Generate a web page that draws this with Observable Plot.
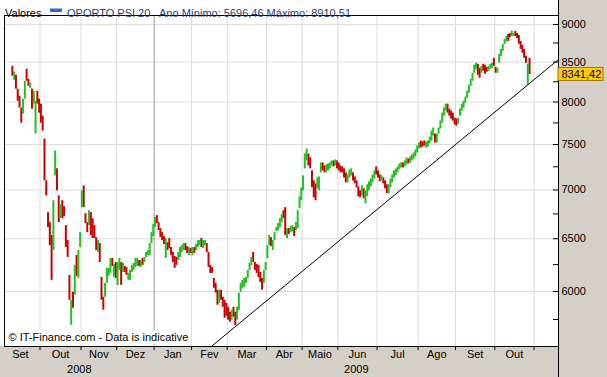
<!DOCTYPE html>
<html><head><meta charset="utf-8">
<script src="https://cdn.jsdelivr.net/npm/d3@7"></script>
<script src="https://cdn.jsdelivr.net/npm/@observablehq/plot@0.6"></script>
<style>
body{margin:0;background:#fff;}
#chart svg{display:block;}
</style></head><body><div id="chart"></div>
<script>
// ---- labels / ticks ----
const monthLabels = ["Set","Out","Nov","Dez","Jan","Fev","Mar","Abr","Maio","Jun","Jul","Ago","Set","Out"];
const tradingDays = [22,23,20,21,21,20,22,20,20,22,23,21,22,22]; // Sep 2008 .. Oct 2009
const yearLabels = ["2008","2009"];
const yTicks = [6000,6500,7000,7500,8000,8500,9000];
const yMinorTicks = [5750,6250,6750,7250,7750,8250,8750];
const seriesName = "OPORTO PSI 20";
const yearMin = 5696.46, yearMax = 8910.51, lastValue = 8341.42;
const xDomain = [2.09, 312.74];   // visible span, in trading days since 1 Sep 2008
const yDomain = [5519, 9123];
// support line (through the March 2009 low)
const trendPos = [118.7, 312.74];
const trendVal = [5527, 8534];

// ---- daily [open, close] ----
const sep08 = [[8446,8319],[8269,8370],[8332,8157],[8157,8010],[8071,7926],[7926,7748],[7854,8034],[8034,8256],[8408,8256],[8281,8194],[8169,8231],[8157,7914],[7974,8132],[7620,8010],[8132,7974],[8034,7866]];
const oct08 = [[7974,7748],[7830,7655],[7563,7097],[7097,6938],[6763,6611],[6661,6433],[6531,6102],[6385,6886],[7151,7427],[7228,6991],[6938,6661],[6701,6844],[6886,6701],[6824,6722],[6631,6414],[6482,6318],[6148,5920],[5700,5920],[5993,5849],[5966,6242],[6337,6139],[6120,6385],[6414,6561]];
const nov08 = [[6814,6991],[7044,6814],[6752,6651],[6661,6561],[6631,6783],[6763,6531],[6701,6502],[6631,6502],[6511,6385],[6366,6482],[6453,6270],[6129,5920],[5948,5831],[5948,6074],[6074,6214],[6139,6214],[6167,6308],[6308,6233],[6129,6251],[6270,6120]];
const dec08 = [[6056,6270],[6195,6308],[6270,6056],[6176,6261],[6233,6176],[6223,6148],[6102,6167],[6102,6195],[6176,6242],[6195,6261],[6223,6308],[6233,6308],[6289,6233],[6223,6289],[6308,6242],[6270,6318],[6318,6366],[6337,6385],[6337,6453],[6453,6561],[6521,6641]];
const jan09 = [[6611,6712],[6732,6651],[6661,6581],[6601,6511],[6561,6482],[6521,6443],[6308,6502],[6462,6385],[6502,6404],[6414,6337],[6366,6270],[6327,6214],[6318,6242],[6289,6366],[6318,6414],[6366,6433],[6385,6453],[6453,6385],[6423,6356],[6337,6414],[6404,6356]];
const feb09 = [[6337,6414],[6414,6356],[6385,6443],[6414,6482],[6433,6482],[6502,6414],[6404,6482],[6433,6482],[6453,6366],[6366,6223],[6242,6167],[6223,6167],[6120,6029],[6074,5984],[6011,5876],[5893,6011],[6011,5920],[5948,5858],[5920,5761],[5893,5778]];
const mar09 = [[5858,5744],[5813,5727],[5744,5831],[5858,5770],[5813,5696.46],[5744,5858],[5831,5984],[5993,6074],[6029,6102],[6038,6120],[6074,6129],[6120,6195],[6195,6261],[6242,6318],[6366,6270],[6270,6195],[6251,6167],[6242,6129],[6176,6083],[6120,6011],[6074,6195],[6195,6270]];
const apr09 = [[6308,6433],[6433,6531],[6511,6423],[6385,6482],[6482,6561],[6571,6611],[6581,6651],[6611,6701],[6661,6742],[6783,6701],[6814,6531],[6502,6601],[6601,6541],[6561,6621],[6571,6631],[6611,6521],[6581,6661],[6601,6783],[6803,6928],[6886,7023]];
const may09 = [[6991,7151],[7228,7393],[7315,7449],[7393,7260],[7349,7228],[7206,7023],[7097,6917],[7065,6886],[7012,7129],[6991,7140],[7184,7293],[7293,7206],[7260,7184],[7184,7271],[7206,7282],[7228,7293],[7260,7315],[7315,7249],[7260,7326],[7315,7228]];
const jun09 = [[7293,7206],[7260,7184],[7249,7184],[7228,7129],[7184,7076],[7076,7162],[7129,7217],[7151,7228],[7184,7097],[7140,7065],[7097,7023],[7033,6928],[6991,6917],[6938,7044],[7012,6907],[6855,6991],[6928,7055],[6991,7087],[7033,7119],[7076,7162],[7119,7206],[7249,7162]];
const jul09 = [[7206,7129],[7162,7087],[7097,7151],[7129,7065],[7097,7012],[7055,6959],[6959,7055],[7023,7119],[7076,7162],[7129,7206],[7151,7228],[7184,7249],[7217,7282],[7238,7293],[7293,7238],[7249,7315],[7271,7349],[7337,7282],[7293,7360],[7315,7382],[7337,7404],[7360,7438],[7404,7483]];
const aug09 = [[7449,7517],[7540,7460],[7529,7472],[7540,7483],[7460,7529],[7472,7540],[7506,7586],[7540,7655],[7597,7690],[7620,7517],[7517,7620],[7620,7690],[7678,7772],[7748,7866],[7830,7926],[7890,7974],[7974,7866],[7914,7830],[7890,7795],[7866,7772],[7807,7725]];
const sep09 = [[7795,7713],[7736,7807],[7830,7914],[7890,7974],[7926,8010],[7986,8059],[8046,8132],[8108,8207],[8194,8281],[8256,8357],[8357,8459],[8408,8485],[8472,8332],[8421,8294],[8357,8446],[8472,8382],[8459,8344],[8433,8370],[8382,8446],[8408,8472],[8421,8485],[8549,8446]];
const oct09 = [[8433,8357],[8357,8421],[8485,8601],[8575,8666],[8640,8732],[8732,8798],[8759,8837],[8864,8772],[8878,8824],[8837,8910.51],[8837,8878],[8905,8837],[8878,8810],[8851,8732],[8772,8666],[8719,8614],[8666,8549],[8575,8485],[8207,8472],[8549,8341.42]];

// ---- build tables ----
const months = [sep08,oct08,nov08,dec08,jan09,feb09,mar09,apr09,may09,jun09,jul09,aug09,sep09,oct09];
const starts = Array.from(d3.cumsum([0, ...tradingDays]));
const days = months.flatMap((arr, m) => {
  const offset = m === 0 ? starts[0] + tradingDays[0] - arr.length : starts[m];
  return arr.map(([open, close], j) => ({pos: offset + j + 0.5, open, close}));
});
const up = days.filter(d => d.close >= d.open);
const down = days.filter(d => d.close < d.open);
const boundaries = starts.slice(1);
const janIdx = 4;
const monthTicks = monthLabels.map((label, m) => ({pos: starts[m] + tradingDays[m] / 2, label}));
const yearTicks = [
  {pos: (xDomain[0] + starts[janIdx]) / 2, label: yearLabels[0]},
  {pos: (starts[janIdx] + xDomain[1]) / 2, label: yearLabels[1]}
];
const trend = trendPos.map((p, i) => ({pos: p, v: trendVal[i]}));
const fmt = v => v.toFixed(2).replace(".", ",");

const W = 607, H = 377, mL = 4, mR = 49, mT = 15, mB = 31;
const pxPerUnit = (W - mL - mR) / (xDomain[1] - xDomain[0]);
const tickLen = 5 / pxPerUnit;

const RED = "#cc0000", GREEN = "#22c022", GRID = "#dcdcdc", PANEL = "#d4d0c8";

const plot = Plot.plot({
  width: W, height: H,
  marginLeft: mL, marginRight: mR, marginTop: mT, marginBottom: mB,
  style: {fontFamily: "'Liberation Sans', Arial, sans-serif", fontSize: "11px", background: "transparent", color: "#000"},
  x: {type: "linear", domain: xDomain, axis: null, label: null},
  y: {type: "log", domain: yDomain, axis: null, label: null},
  marks: [
    Plot.frame({fill: "white"}),
    Plot.ruleY(yTicks, {stroke: GRID}),
    Plot.ruleX(boundaries.filter((b, i) => i + 1 !== janIdx), {stroke: GRID}),
    Plot.ruleX([starts[janIdx]], {stroke: "#9a9a9a"}),
    Plot.ruleX(down, {x: "pos", y1: "open", y2: "close", stroke: RED, strokeWidth: 2}),
    Plot.ruleX(up, {x: "pos", y1: "open", y2: "close", stroke: GREEN, strokeWidth: 2}),
    Plot.line(trend, {x: "pos", y: "v", stroke: "#000", strokeWidth: 1, clip: true}),
    Plot.ruleY([...yTicks, ...yMinorTicks], {x1: xDomain[1] - tickLen, x2: xDomain[1], stroke: "#000"}),
    Plot.text(["© IT-Finance.com - Data is indicative"], {frameAnchor: "bottom-left", dx: 4, dy: -6, textAnchor: "start", fill: "#000", stroke: "white", strokeWidth: 6}),
    Plot.frame({stroke: "#000"}),
    Plot.axisY({anchor: "right", ticks: yTicks, tickSize: 0, tickPadding: 3, tickFormat: d => String(d), fill: "#000", label: null}),
    Plot.axisX({anchor: "bottom", ticks: boundaries, tickSize: 4, tickFormat: () => "", stroke: "#000", label: null}),
    Plot.text(monthTicks, {x: "pos", text: "label", frameAnchor: "bottom", dy: 11, fill: "#000"}),
    Plot.text(yearTicks, {x: "pos", text: "label", frameAnchor: "bottom", dy: 26, fill: "#000"}),
    Plot.text(["Valores"], {frameAnchor: "top-left", dx: 0.5, dy: -6, textAnchor: "start", fill: "#000"}),
    Plot.text([seriesName], {frameAnchor: "top-left", dx: 62.5, dy: -6, textAnchor: "start", fill: "#1f3f77"}),
    Plot.text([`Ano Mínimo: ${fmt(yearMin)} Máximo: ${fmt(yearMax)}`], {frameAnchor: "top-left", dx: 154.5, dy: -6, textAnchor: "start", fill: "#1f3f77"}),
    Plot.text([lastValue], {y: d => d, text: d => fmt(d), frameAnchor: "right", dx: 3, textAnchor: "start", fill: "#000"})
  ]
});

// panels & value box (positions from the plot's own scales)
const svg = d3.select(plot);
const bg = svg.insert("g", () => plot.querySelector("g"));
bg.append("rect").attr("x", 0).attr("y", 0).attr("width", W).attr("height", H).attr("fill", "white");
bg.append("rect").attr("x", 0).attr("y", H - mB).attr("width", W).attr("height", mB).attr("fill", PANEL);
bg.append("rect").attr("x", W - mR).attr("y", 0).attr("width", mR).attr("height", H).attr("fill", PANEL);
bg.append("line").attr("x1", W - mR + 0.5).attr("x2", W - mR + 0.5).attr("y1", 0).attr("y2", H).attr("stroke", "#000");
// legend swatch
bg.append("rect").attr("x", 50).attr("y", 8.5).attr("width", 12).attr("height", 3.5).attr("fill", "#3366cc");
// value box, placed just under the value label
const yv = plot.scale("y").apply(lastValue);
const texts = plot.querySelectorAll("g[aria-label='text']");
const lastText = texts[texts.length - 1];
const box = document.createElementNS("http://www.w3.org/2000/svg", "rect");
d3.select(box).attr("x", W - mR).attr("y", yv - 6.5).attr("width", 45).attr("height", 13)
  .attr("fill", "#ffcc00").attr("stroke", "#a07800");
lastText.parentNode.insertBefore(box, lastText);

document.getElementById("chart").appendChild(plot);
</script>
</body></html>
